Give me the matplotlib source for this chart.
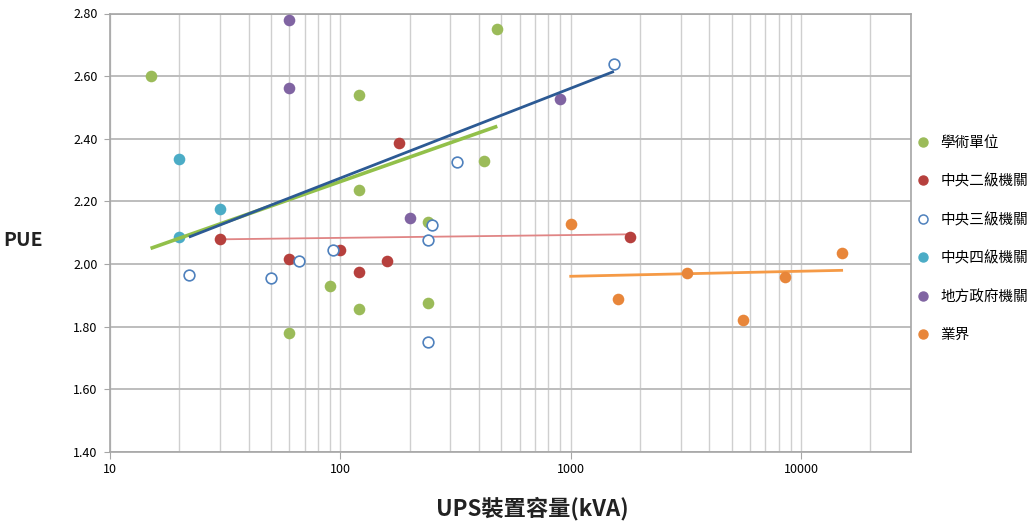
import matplotlib
matplotlib.use("Agg")
import matplotlib.pyplot as plt
from matplotlib.ticker import FixedLocator, NullFormatter, FixedFormatter, LogLocator
from matplotlib.lines import Line2D
import numpy as np

plt.rcParams['font.family'] = ['Noto Sans CJK TC', 'DejaVu Sans']

# ---- data ----
series_names = ["學術單位", "中央二級機關", "中央三級機關", "中央四級機關", "地方政府機關", "業界"]

academic_x = [15, 480, 120, 120, 420, 240, 90, 120, 60, 240]
academic_y = [2.60, 2.75, 2.54, 2.235, 2.33, 2.135, 1.93, 1.855, 1.78, 1.875]

central2_x = [180, 30, 60, 100, 120, 160, 1800]
central2_y = [2.385, 2.08, 2.015, 2.045, 1.975, 2.01, 2.085]

central3_x = [22, 50, 66, 93, 1540, 320, 250, 240, 240]
central3_y = [1.965, 1.955, 2.01, 2.045, 2.64, 2.325, 2.125, 2.078, 1.75]

central4_x = [20, 30, 20]
central4_y = [2.335, 2.175, 2.085]

local_x = [60, 60, 900, 200]
local_y = [2.778, 2.563, 2.527, 2.146]

industry_x = [1000, 1600, 3200, 5600, 8500, 15000]
industry_y = [2.127, 1.887, 1.972, 1.822, 1.960, 2.036]

# trend lines (end points)
trend_academic_x = [15, 480]
trend_academic_y = [2.05, 2.44]
trend_central2_x = [30, 1800]
trend_central2_y = [2.079, 2.095]
trend_central3_x = [22, 1540]
trend_central3_y = [2.086, 2.615]
trend_industry_x = [1000, 15000]
trend_industry_y = [1.961, 1.980]

y_ticks = [1.40, 1.60, 1.80, 2.00, 2.20, 2.40, 2.60, 2.80]
x_ticks = [10, 100, 1000, 10000]
x_tick_labels = ["10", "100", "1000", "10000"]

# ---- colours ----
c_green = "#9BBB59"
c_red = "#B6403D"
c_blue = "#4F81BD"
c_cyan = "#4BACC6"
c_purple = "#8064A2"
c_orange = "#E8863A"

fig = plt.figure(figsize=(10.33, 5.24), dpi=100)
ax = fig.add_axes([110/1033, 1-452/524, (911-110)/1033, (452-13.5)/524])

ax.set_xscale("log")
ax.set_xlim(10, 30000)
ax.set_ylim(1.40, 2.80)

# grid
ax.xaxis.set_major_locator(FixedLocator(x_ticks))
ax.xaxis.set_major_formatter(FixedFormatter(x_tick_labels))
ax.xaxis.set_minor_locator(LogLocator(base=10, subs=np.arange(2, 10)))
ax.xaxis.set_minor_formatter(NullFormatter())
ax.set_yticks(y_ticks)
ax.set_yticklabels([f"{v:.2f}" for v in y_ticks])
ax.grid(True, which="both", axis="x", color="#CFCFCF", linewidth=1.0, zorder=0)
ax.grid(True, which="major", axis="y", color="#BDBDBD", linewidth=1.4, zorder=0)
ax.set_axisbelow(True)

for s in ax.spines.values():
    s.set_color("#A6A6A6")
    s.set_linewidth(1.2)

ax.tick_params(axis="x", which="major", length=5, color="#A6A6A6", labelsize=9, pad=3)
ax.tick_params(axis="x", which="minor", length=0)
ax.tick_params(axis="y", which="major", length=4, color="#A6A6A6", labelsize=9, pad=5)

ms = 70
ax.scatter(academic_x, academic_y, s=ms, color=c_green, zorder=3, linewidths=0)
ax.scatter(central2_x, central2_y, s=ms, color=c_red, zorder=3, linewidths=0)
ax.scatter(central3_x, central3_y, s=ms * 0.85, facecolors="white", edgecolors=c_blue, linewidths=1.2, zorder=3)
ax.scatter(central4_x, central4_y, s=ms, color=c_cyan, zorder=3, linewidths=0)
ax.scatter(local_x, local_y, s=ms, color=c_purple, zorder=3, linewidths=0)
ax.scatter(industry_x, industry_y, s=ms, color=c_orange, zorder=3, linewidths=0)

ax.plot(trend_academic_x, trend_academic_y, color="#92C04A", linewidth=2.6, zorder=4, solid_capstyle="butt")
ax.plot(trend_central3_x, trend_central3_y, color="#2C5A94", linewidth=2.0, zorder=4, solid_capstyle="butt")
ax.plot(trend_central2_x, trend_central2_y, color="#E08585", linewidth=1.3, zorder=2)
ax.plot(trend_industry_x, trend_industry_y, color="#F59A46", linewidth=2.0, zorder=2)

fig.text(532/1033, 1-509/524, "UPS裝置容量(kVA)", fontsize=16, fontweight="bold",
         ha="center", va="center", color="#222222")
fig.text(23/1033, 1-241/524, "PUE", fontsize=14, fontweight="bold", ha="center", va="center", color="#222222")

handles = [
    Line2D([], [], linestyle="none", marker="o", markersize=6.5, markerfacecolor=c_green, markeredgecolor=c_green),
    Line2D([], [], linestyle="none", marker="o", markersize=6.5, markerfacecolor=c_red, markeredgecolor=c_red),
    Line2D([], [], linestyle="none", marker="o", markersize=6.5, markerfacecolor="white", markeredgecolor=c_blue, markeredgewidth=1.1),
    Line2D([], [], linestyle="none", marker="o", markersize=6.5, markerfacecolor=c_cyan, markeredgecolor=c_cyan),
    Line2D([], [], linestyle="none", marker="o", markersize=6.5, markerfacecolor=c_purple, markeredgecolor=c_purple),
    Line2D([], [], linestyle="none", marker="o", markersize=6.5, markerfacecolor=c_orange, markeredgecolor=c_orange),
]
fig.legend(handles, series_names, loc="upper left", bbox_to_anchor=(917/1033, 1-136/524),
           frameon=False, fontsize=10.5, labelspacing=1.66, handlelength=0.8, handletextpad=0.8,
           borderpad=0, borderaxespad=0)

fig.savefig("out.png", dpi=100)
